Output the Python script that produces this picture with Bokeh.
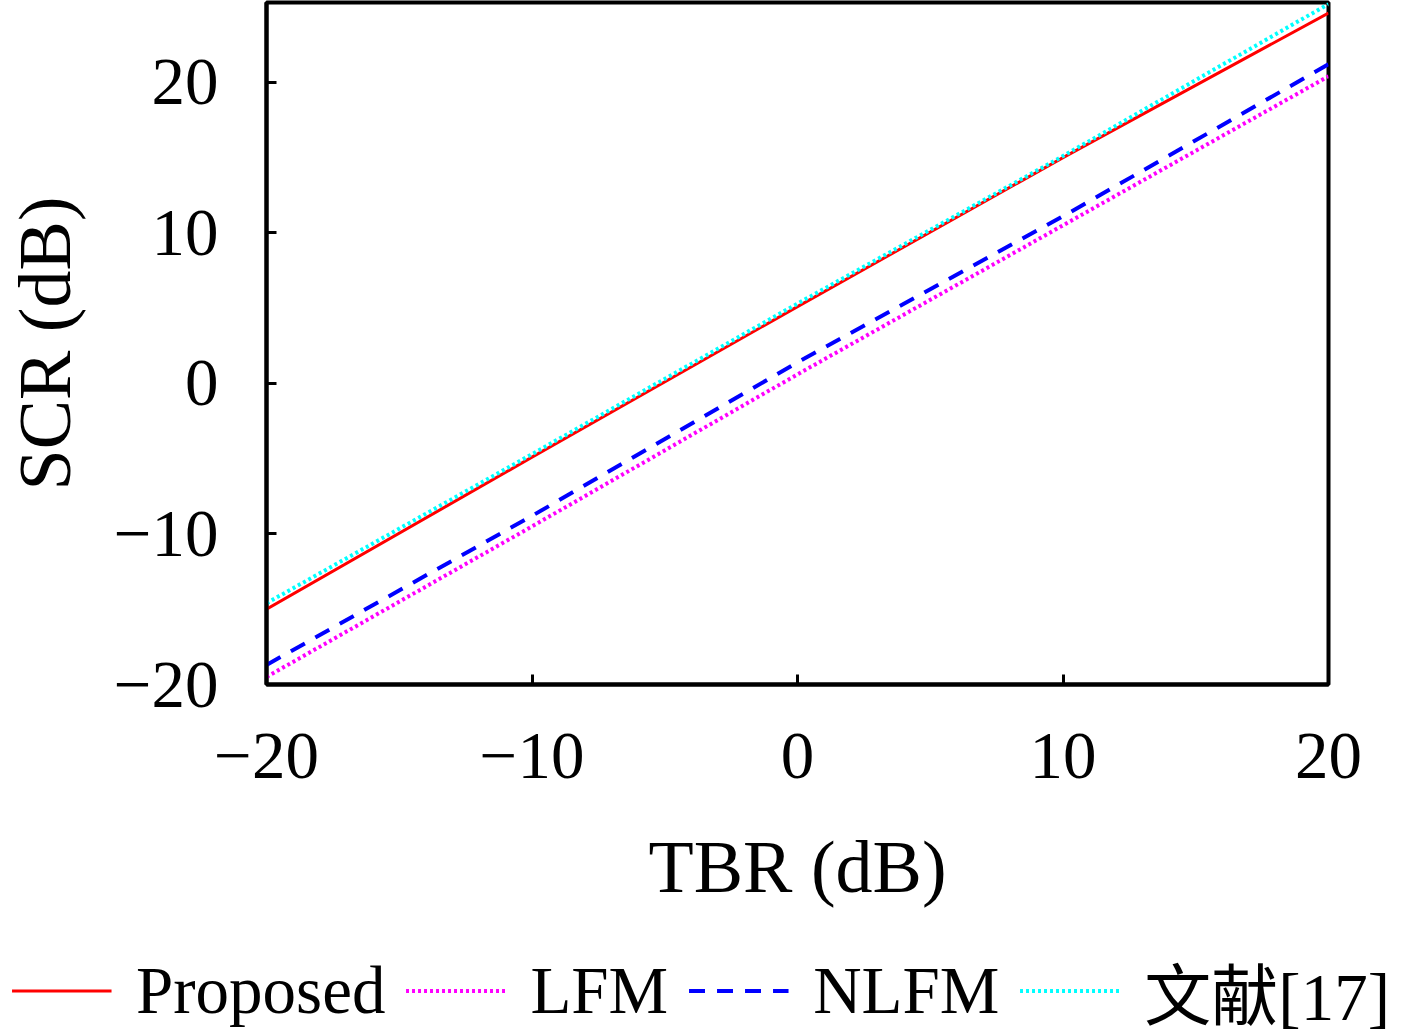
from bokeh.plotting import figure
from bokeh.models import Legend, LegendItem, FixedTicker, Range1d
from bokeh.embed import file_html
from bokeh.resources import INLINE

# Data
tbr = [-20, -10, 0, 10, 20]
proposed = [-15.0, -4.9, 5.1, 15.0, 24.6]
lfm = [-19.5, -9.5, 0.6, 10.5, 20.4]
nlfm = [-18.7, -8.8, 1.4, 11.1, 21.2]
ref17 = [-14.6, -4.7, 5.3, 15.1, 25.2]

series_names = ["Proposed", "LFM", "NLFM", "文献[17]"]
x_ticks = [-20, -10, 0, 10, 20]
y_ticks = [-20, -10, 0, 10, 20]
tick_labels = {-20: "\u221220", -10: "\u221210", 0: "0", 10: "10", 20: "20"}

FONT = "Liberation Serif"
LEG_FONT = "Liberation Serif, Noto Sans CJK SC"

styles = [
    dict(line_color="#ff0000", line_width=3),
    dict(line_color="#ff00ff", line_width=4, line_dash="3 3"),
    dict(line_color="#0000ff", line_width=4, line_dash="16 12"),
    dict(line_color="#00ffff", line_width=4, line_dash="3 3"),
]

p = figure(width=1401, height=940,
           min_border_left=252, min_border_right=73,
           min_border_top=2, min_border_bottom=256,
           x_range=Range1d(-20, 20), y_range=Range1d(-20, 25.3),
           output_backend="svg", toolbar_location=None)

p.grid.visible = False
p.outline_line_color = "black"
p.outline_line_width = 4
p.background_fill_color = "white"
p.border_fill_color = "white"

for ax in (p.xaxis[0], p.yaxis[0]):
    ax.axis_line_width = 4
    ax.major_tick_in = 10
    ax.major_tick_out = 0
    ax.major_tick_line_width = 3
    ax.minor_tick_line_color = None
    ax.major_label_text_font = FONT
    ax.major_label_text_font_size = "67px"
    ax.major_label_text_color = "black"
    ax.axis_label_text_font = FONT
    ax.axis_label_text_font_size = "74px"
    ax.axis_label_text_font_style = "normal"
    ax.axis_label_text_color = "black"
    ax.major_label_overrides = tick_labels

p.xaxis.ticker = FixedTicker(ticks=x_ticks)
p.yaxis.ticker = FixedTicker(ticks=y_ticks)
p.xaxis.axis_label = "TBR (dB)"
p.yaxis.axis_label = "SCR (dB)"
p.xaxis.major_label_standoff = 49
p.xaxis.axis_label_standoff = 45
p.yaxis.major_label_standoff = 48
p.yaxis.axis_label_standoff = 25

series = [proposed, lfm, nlfm, ref17]
for ys, st in zip(series, styles):
    p.line(tbr, ys, **st)

# Legend strip underneath the chart (its own figure; the lines lie outside its view)
q = figure(width=1401, height=100, min_border=0,
           x_range=Range1d(100, 101), y_range=Range1d(100, 101),
           output_backend="svg", toolbar_location=None)
q.axis.visible = False
q.grid.visible = False
q.outline_line_color = None
q.border_fill_color = "white"
q.background_fill_color = "white"

leg_renderers = [q.line(tbr, ys, **st) for ys, st in zip(series, styles)]
items = [LegendItem(label=n, renderers=[r]) for n, r in zip(series_names, leg_renderers)]
legend = Legend(items=items, orientation="horizontal", location="center",
                border_line_alpha=0, background_fill_alpha=0,
                glyph_width=100, glyph_height=30, label_standoff=25, spacing=20,
                padding=0, margin=0,
                label_text_font=LEG_FONT, label_text_font_size="67px",
                label_text_color="black")
q.add_layout(legend, "center")

open("out.html", "w").write(file_html([p, q], INLINE))
